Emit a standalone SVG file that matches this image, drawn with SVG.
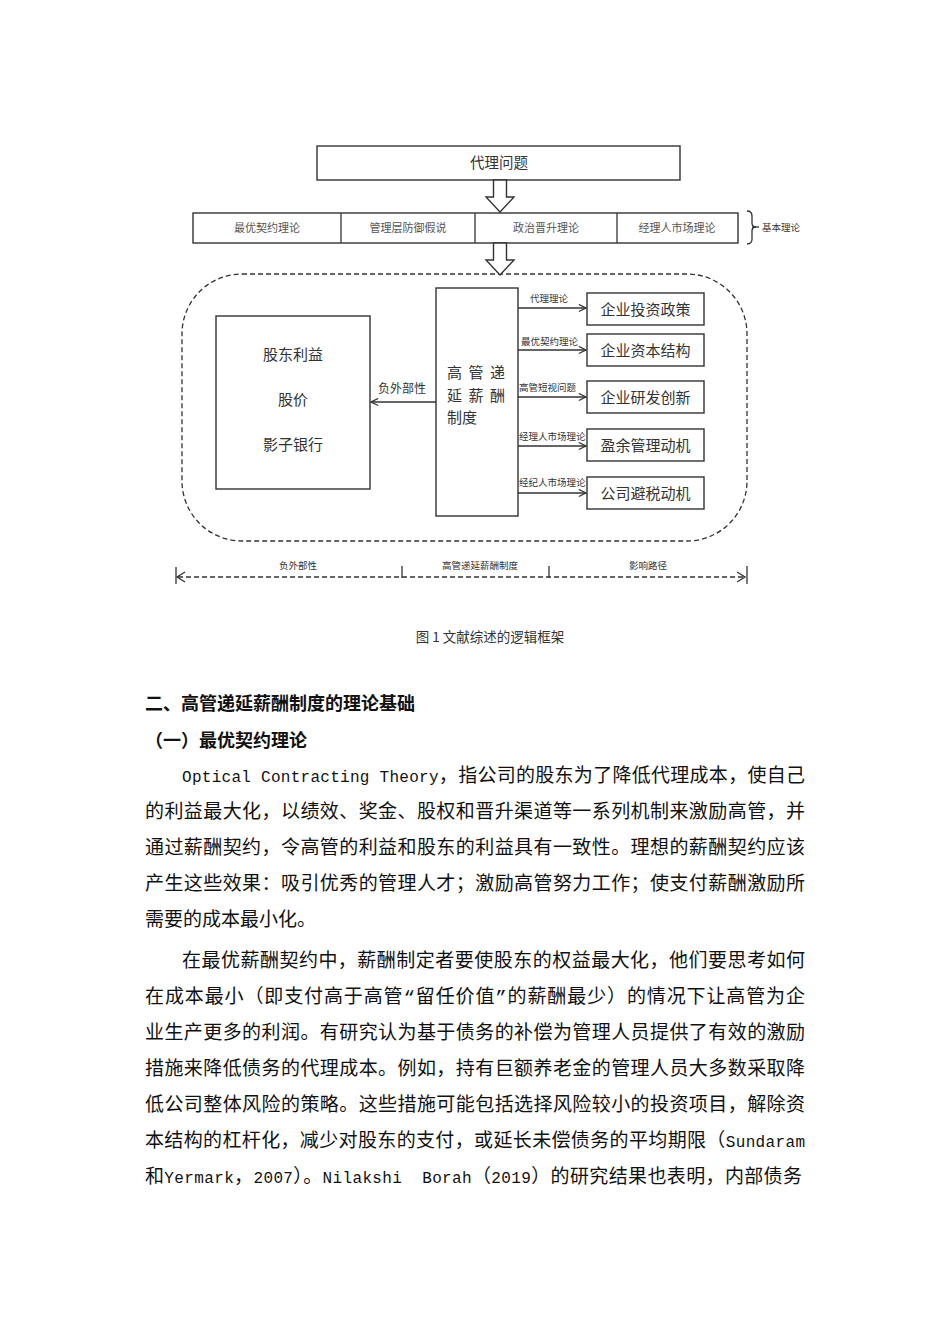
<svg xmlns="http://www.w3.org/2000/svg" width="950" height="1344" viewBox="0 0 950 1344">
<style>
.box{fill:#fff;stroke:#333;stroke-width:1.4}
.ln{fill:none;stroke:#333;stroke-width:1.3}
.dash{fill:none;stroke:#333;stroke-width:1.3;stroke-dasharray:5 3}
.t{font-family:"Noto Sans CJK SC","Liberation Sans",sans-serif;fill:#333}
.row{font-size:11px;fill:#555;text-anchor:middle}
.lbl{font-size:9.5px}
.mid{text-anchor:middle}
.body{font-family:"Liberation Mono","Noto Sans CJK SC",monospace;font-size:19px;fill:#111;white-space:pre}
.lat{font-size:16px}
.h{font-family:"Noto Sans CJK SC","Liberation Sans",sans-serif;font-size:18px;font-weight:bold;fill:#111}
</style>
<defs>
<marker id="chev" viewBox="0 0 10 10" refX="9" refY="5" markerWidth="9" markerHeight="9" markerUnits="userSpaceOnUse" orient="auto">
<path d="M1,1 L9,5 L1,9" fill="none" stroke="#333" stroke-width="1.3"/>
</marker>
</defs>
<rect width="950" height="1344" fill="#fff"/>

<g id="node-agency">
<rect class="box" x="317" y="146" width="363" height="34"/>
<text class="t mid" x="499" y="168" font-size="14.5">代理问题</text>
</g>

<g id="node-theories">
<rect class="box" x="193" y="213" width="545" height="30"/>
<line class="ln" x1="341" y1="213" x2="341" y2="243"/>
<line class="ln" x1="475" y1="213" x2="475" y2="243"/>
<line class="ln" x1="617" y1="213" x2="617" y2="243"/>
<text class="t row" x="267" y="232">最优契约理论</text>
<text class="t row" x="408" y="232">管理层防御假说</text>
<text class="t row" x="546" y="232">政治晋升理论</text>
<text class="t row" x="677" y="232">经理人市场理论</text>
</g>

<g id="node-basic">
<path class="ln" d="M747,211 Q752,211 752,216 L752,223 Q752,227 756,227 Q752,227 752,231 L752,239 Q752,244 747,244"/>
<line class="ln" x1="752" y1="227" x2="759" y2="227"/>
<text class="t lbl" x="762" y="231">基本理论</text>
</g>

<g id="node-frame">
<rect class="dash" x="182" y="274" width="565" height="267" rx="60" ry="60" stroke-dasharray="8 4"/>
</g>

<g id="node-shareholder">
<rect class="box" x="216" y="316" width="154" height="173"/>
<text class="t mid" x="293" y="360" font-size="15">股东利益</text>
<text class="t mid" x="293" y="405" font-size="15">股价</text>
<text class="t mid" x="293" y="450" font-size="15">影子银行</text>
</g>

<g id="node-deferred">
<rect class="box" x="436" y="288" width="82" height="228"/>
<text class="t" x="447" y="378" font-size="15" letter-spacing="6.5">高管递</text>
<text class="t" x="447" y="401" font-size="15" letter-spacing="6.5">延薪酬</text>
<text class="t" x="447" y="423" font-size="15">制度</text>
</g>

<g id="node-invest">
<rect class="box" x="587" y="293" width="117" height="32"/>
<text class="t mid" x="645.5" y="314.5" font-size="15">企业投资政策</text>
</g>
<g id="node-capital">
<rect class="box" x="587" y="334" width="117" height="32"/>
<text class="t mid" x="645.5" y="355.5" font-size="15">企业资本结构</text>
</g>
<g id="node-rd">
<rect class="box" x="587" y="381" width="117" height="32"/>
<text class="t mid" x="645.5" y="402.5" font-size="15">企业研发创新</text>
</g>
<g id="node-earnings">
<rect class="box" x="587" y="429" width="117" height="32"/>
<text class="t mid" x="645.5" y="450.5" font-size="15">盈余管理动机</text>
</g>
<g id="node-tax">
<rect class="box" x="587" y="477" width="117" height="32"/>
<text class="t mid" x="645.5" y="498.5" font-size="15">公司避税动机</text>
</g>

<g id="connectors">
<polygon class="box" points="493.5,180 506.5,180 506.5,197 514,197 500,212 486,197 493.5,197"/>
<polygon class="box" points="493.5,243 506.5,243 506.5,260 514,260 500,275 486,260 493.5,260"/>
<line class="ln" x1="436" y1="402" x2="371" y2="402" marker-end="url(#chev)"/>
<text class="t mid" x="402" y="393" font-size="12">负外部性</text>
<line class="ln" x1="518" y1="308" x2="586" y2="308" marker-end="url(#chev)"/>
<line class="ln" x1="518" y1="350" x2="586" y2="350" marker-end="url(#chev)"/>
<line class="ln" x1="518" y1="397" x2="586" y2="397" marker-end="url(#chev)"/>
<line class="ln" x1="518" y1="446" x2="586" y2="446" marker-end="url(#chev)"/>
<line class="ln" x1="518" y1="493" x2="586" y2="493" marker-end="url(#chev)"/>
<text class="t lbl" x="530" y="302">代理理论</text>
<text class="t lbl" x="521" y="345">最优契约理论</text>
<text class="t lbl" x="519" y="391">高管短视问题</text>
<text class="t lbl" x="519" y="440">经理人市场理论</text>
<text class="t lbl" x="519" y="486">经纪人市场理论</text>
</g>

<g id="node-scale">
<line class="dash" x1="178" y1="577" x2="744" y2="577" stroke-dasharray="4 2.5"/>
<path class="ln" d="M185,572 L177,577 L185,582"/>
<path class="ln" d="M737,572 L745,577 L737,582"/>
<line class="ln" x1="176" y1="567" x2="176" y2="584"/>
<line class="ln" x1="402" y1="566" x2="402" y2="578"/>
<line class="ln" x1="549" y1="566" x2="549" y2="578"/>
<line class="ln" x1="747" y1="566" x2="747" y2="584"/>
<text class="t lbl mid" x="298" y="569">负外部性</text>
<text class="t lbl mid" x="480" y="569">高管递延薪酬制度</text>
<text class="t lbl mid" x="648" y="569">影响路径</text>
</g>

<g id="caption">
<text class="t mid" x="490" y="642" font-size="13.5" fill="#333">图 1 文献综述的逻辑框架</text>
</g>

<g id="body">
<text class="h" x="145" y="710">二、高管递延薪酬制度的理论基础</text>
<text class="h" x="145" y="747">（一）最优契约理论</text>
<text class="body" x="182" y="782" textLength="623" lengthAdjust="spacing"><tspan class="lat">Optical Contracting Theory</tspan>，指公司的股东为了降低代理成本，使自己</text>
<text class="body" x="145" y="818" textLength="660" lengthAdjust="spacing">的利益最大化，以绩效、奖金、股权和晋升渠道等一系列机制来激励高管，并</text>
<text class="body" x="145" y="854" textLength="660" lengthAdjust="spacing">通过薪酬契约，令高管的利益和股东的利益具有一致性。理想的薪酬契约应该</text>
<text class="body" x="145" y="890" textLength="660" lengthAdjust="spacing">产生这些效果：吸引优秀的管理人才；激励高管努力工作；使支付薪酬激励所</text>
<text class="body" x="145" y="926">需要的成本最小化。</text>
<text class="body" x="182" y="967" textLength="623" lengthAdjust="spacing">在最优薪酬契约中，薪酬制定者要使股东的权益最大化，他们要思考如何</text>
<text class="body" x="145" y="1003" textLength="660" lengthAdjust="spacing">在成本最小（即支付高于高管“留任价值”的薪酬最少）的情况下让高管为企</text>
<text class="body" x="145" y="1039" textLength="660" lengthAdjust="spacing">业生产更多的利润。有研究认为基于债务的补偿为管理人员提供了有效的激励</text>
<text class="body" x="145" y="1075" textLength="660" lengthAdjust="spacing">措施来降低债务的代理成本。例如，持有巨额养老金的管理人员大多数采取降</text>
<text class="body" x="145" y="1111" textLength="660" lengthAdjust="spacing">低公司整体风险的策略。这些措施可能包括选择风险较小的投资项目，解除资</text>
<text class="body" x="145" y="1147" textLength="660" lengthAdjust="spacing">本结构的杠杆化，减少对股东的支付，或延长未偿债务的平均期限（<tspan class="lat">Sundaram</tspan></text>
<text class="body" x="145" y="1183" textLength="657" lengthAdjust="spacing">和<tspan class="lat">Yermark</tspan>，<tspan class="lat">2007</tspan>）。<tspan class="lat">Nilakshi  Borah</tspan>（<tspan class="lat">2019</tspan>）的研究结果也表明，内部债务</text>
</g>
</svg>
